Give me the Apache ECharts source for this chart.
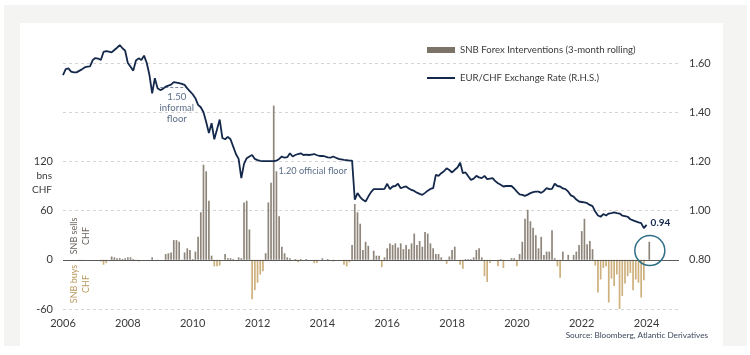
<!DOCTYPE html>
<html><head><meta charset="utf-8">
<script src="https://cdn.jsdelivr.net/npm/echarts@6/dist/echarts.min.js"></script>
<style>
html,body{margin:0;padding:0;background:#fff;}
#frame{position:absolute;left:4px;top:5px;width:743px;height:341px;background:#f4f4f2;}
#panel{position:absolute;left:20px;top:23px;width:703px;height:323px;background:#fff;}
#chart{position:absolute;left:0;top:0;width:750px;height:355px;}
</style></head><body>
<div id="frame"></div><div id="panel"></div><div id="chart"></div>
<script>
// Monthly data starting Jan 2006
const startYear = 2006;
const barName = 'SNB Forex Interventions (3-month rolling)';
const lineName = 'EUR/CHF Exchange Rate (R.H.S.)';
// SNB FX interventions, bn CHF, 3-month rolling (index 0 = Jan 2006)
const barValues = [
  0,0,0,0,0,0,-1,-1,0,0,0,0,
  0,0,-2,-6,-4,0,4,3,2,2,1,2,
  3,3,1,-1,-2,0,0,0,0,3,0,-1,
  0,0,7,8,9,24,24,22,-1,9,14,12,
  1,10,28,58,116,108,72,5,-8,-8,-7,0,
  7,2,2,1,0,3,2,70,72,37,-48,-37,
  -28,-18,-14,8,70,94,188,108,53,16,8,3,
  2,0,1,-3,1,0,1,0,0,-4,-4,0,
  2,0,1,0,-2,0,0,0,-6,-8,-3,18,
  68,58,44,12,22,17,-1,11,5,5,-9,3,
  14,20,18,20,15,20,13,18,13,20,32,18,
  23,16,34,32,20,14,7,7,3,0,-5,4,
  12,16,0,-6,-11,1,1,1,3,12,14,3,
  -20,-27,-4,0,0,-8,1,-10,0,0,2,2,
  -8,7,22,50,61,47,39,30,14,28,6,10,
  10,36,2,-8,-22,10,0,6,0,6,10,18,
  35,50,19,23,13,-7,-40,-24,-10,-8,-52,-23,
  -32,-18,-61,-44,-29,-20,-16,-37,-24,-28,-46,-25,
  0,22
];
// EUR/CHF monthly (index 0 = Jan 2006)
const lineValues = [
  1.551,1.575,1.578,1.565,1.562,1.562,1.568,1.574,1.582,1.585,1.586,1.612,
  1.620,1.618,1.612,1.645,1.648,1.646,1.643,1.653,1.662,1.673,1.660,1.650,
  1.600,1.585,1.569,1.610,1.619,1.612,1.630,1.600,1.551,1.477,1.538,1.497,
  1.490,1.495,1.504,1.508,1.512,1.522,1.520,1.518,1.515,1.511,1.497,1.485,
  1.473,1.457,1.430,1.420,1.400,1.360,1.315,1.355,1.290,1.330,1.370,1.295,
  1.290,1.300,1.290,1.260,1.230,1.210,1.132,1.190,1.213,1.220,1.226,1.210,
  1.205,1.202,1.201,1.201,1.201,1.201,1.201,1.203,1.210,1.220,1.215,1.217,
  1.233,1.220,1.226,1.230,1.233,1.226,1.228,1.226,1.228,1.230,1.225,1.222,
  1.222,1.220,1.216,1.215,1.220,1.215,1.210,1.208,1.206,1.205,1.203,1.203,
  1.044,1.071,1.055,1.044,1.037,1.057,1.075,1.087,1.087,1.087,1.087,1.088,
  1.109,1.087,1.098,1.100,1.109,1.091,1.095,1.098,1.090,1.084,1.080,1.073,
  1.068,1.064,1.072,1.081,1.088,1.091,1.145,1.141,1.152,1.160,1.172,1.165,
  1.155,1.166,1.175,1.195,1.152,1.155,1.140,1.125,1.130,1.141,1.135,1.132,
  1.141,1.128,1.130,1.132,1.120,1.111,1.105,1.098,1.100,1.100,1.100,1.090,
  1.077,1.066,1.064,1.060,1.065,1.071,1.075,1.077,1.077,1.072,1.080,1.091,
  1.087,1.088,1.109,1.100,1.098,1.090,1.087,1.077,1.062,1.057,1.045,1.037,
  1.035,1.033,1.030,1.023,1.018,0.996,0.980,0.975,0.986,0.980,0.988,0.990,
  0.993,0.990,0.988,0.980,0.978,0.975,0.965,0.960,0.956,0.952,0.949,0.929,
  0.942
];
const xTickLabels = [2006,2008,2010,2012,2014,2016,2018,2020,2022,2024];
const leftTickLabels = [-60,0,60,120];
const rightTickLabels = [0.8,1.0,1.2,1.4,1.6];

const barData = barValues.map((v,i)=>[startYear + i/12, v]);
const lineData = lineValues.map((v,i)=>[startYear + i/12, v]);

const posColor = '#8f867b', negColor = '#cdb07c', lineColor = '#14284b';
const txt = '#3a3a3a', annColor = '#5b6e88';
const ff = 'Lato';

const chart = echarts.init(document.getElementById('chart'), null, {renderer:'canvas'});
chart.setOption({
  animation:false,
  backgroundColor:'transparent',
  textStyle:{fontFamily:ff},
  grid:{left:63, right:71, top:63, bottom:46},
  legend:[
    {data:[{name:barName, icon:'rect', itemStyle:{color:'#7b7268'}}], left:422, top:40,
     itemWidth:28, itemHeight:6, textStyle:{fontFamily:ff, fontSize:9.6, color:txt}},
    {data:[{name:lineName, icon:'rect', itemStyle:{color:lineColor}}], left:422, top:68,
     itemWidth:28, itemHeight:2, textStyle:{fontFamily:ff, fontSize:9.6, color:txt}}
  ],
  xAxis:{type:'value', min:2006, max:2025, interval:2,
    axisLine:{show:false}, axisTick:{show:false}, splitLine:{show:false},
    axisLabel:{color:txt, fontSize:11, fontFamily:ff, margin:9,
      formatter:v=> xTickLabels.includes(v) ? String(v) : ''}},
  yAxis:[
    {type:'value', min:-60, max:240, interval:60, position:'left',
      axisLine:{show:false}, axisTick:{show:false},
      splitLine:{show:true, lineStyle:{type:[3,3], color:'#d4d4d4', width:1}},
      axisLabel:{color:txt, fontSize:11, fontFamily:ff, margin:10,
        formatter:v=> leftTickLabels.includes(v) ? String(v) : ''}},
    {type:'value', min:0.6, max:1.6, interval:0.2, position:'right',
      axisLine:{show:false}, axisTick:{show:false}, splitLine:{show:false},
      axisLabel:{color:txt, fontSize:11, fontFamily:ff, margin:10,
        formatter:v=> rightTickLabels.some(t=>Math.abs(t-v)<1e-6) ? v.toFixed(2) : ''}}
  ],
  series:[
    {name:barName, type:'bar', data:barData, barWidth:1.7, yAxisIndex:0,
      itemStyle:{color:p=> p.value[1] >= 0 ? posColor : negColor},
      markLine:{silent:true, symbol:'none', label:{show:false},
        lineStyle:{type:'solid', color:'#5a5a5a', width:1.2},
        data:[{yAxis:0}]},
      markPoint:{silent:true, symbol:'circle', symbolSize:30,
        itemStyle:{color:'rgba(0,0,0,0)', borderColor:'#2f6f86', borderWidth:1.5},
        label:{show:false},
        data:[{coord:[2024.1, 11.3]}]}
    },
    {name:lineName, type:'line', data:lineData, yAxisIndex:1, symbol:'none', clip:false,
      lineStyle:{color:lineColor, width:1.8}, itemStyle:{color:lineColor}, z:5,
      endLabel:{show:true, formatter:p=>p.value[1].toFixed(2), color:lineColor,
        fontWeight:'bold', fontSize:10, fontFamily:ff, distance:4, offset:[0,-2]},
      markLine:{silent:true, symbol:'none', label:{show:false},
        lineStyle:{type:[3,2], color:'#7a8aa0', width:1},
        data:[[{coord:[2009.0,1.5]},{coord:[2009.82,1.5]}]]},
      markPoint:{silent:true, symbol:'circle', symbolSize:1,
        itemStyle:{color:'rgba(0,0,0,0)'},
        data:[
          {coord:[2009.51,1.4185], label:{show:true, position:'inside',
            formatter:'1.50\ninformal\nfloor', color:annColor, fontSize:9.6, lineHeight:11, fontFamily:ff}},
          {coord:[2012.63,1.161], label:{show:true, position:'right', distance:0,
            formatter:'1.20 official floor', color:annColor, fontSize:9.2, fontFamily:ff}}
        ]}
    }
  ],
  graphic:[
    {type:'text', x:52, y:176, style:{text:'bns', textAlign:'right', textVerticalAlign:'middle', fill:txt, fontSize:10, fontFamily:ff}},
    {type:'text', x:52, y:190, style:{text:'CHF', textAlign:'right', textVerticalAlign:'middle', fill:txt, fontSize:10, fontFamily:ff}},
    {type:'text', x:80, y:236, rotation:Math.PI/2, style:{text:'SNB sells\nCHF', textAlign:'center', textVerticalAlign:'middle', fill:'#6b655e', fontSize:9, lineHeight:12, fontFamily:ff}},
    {type:'text', x:80, y:284, rotation:Math.PI/2, style:{text:'SNB buys\nCHF', textAlign:'center', textVerticalAlign:'middle', fill:'#bb9a60', fontSize:9, lineHeight:12, fontFamily:ff}},
    {type:'text', x:708, y:335, style:{text:'Source: Bloomberg, Atlantic Derivatives', textAlign:'right', textVerticalAlign:'middle', fill:'#3e4a5c', fontSize:8.2, fontFamily:ff}}
  ]
});
</script></body></html>
